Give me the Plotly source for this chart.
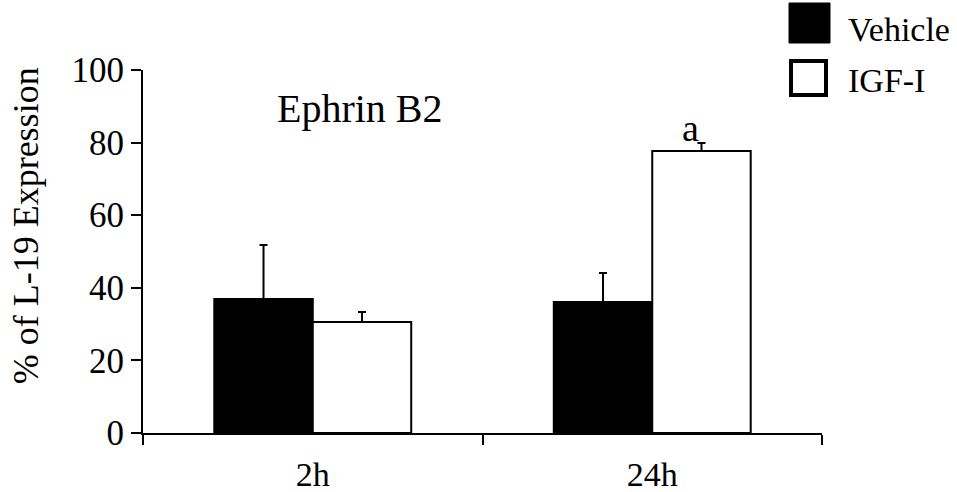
import plotly.graph_objects as go

categories = ["2h", "24h"]
vehicle = [36.9, 36.1]
vehicle_err = [14.9, 8.0]
igf = [30.6, 77.7]
igf_err = [2.7, 2.2]
y_ticks = [0, 20, 40, 60, 80, 100]
series_names = ["Vehicle", "IGF-I"]
sig_label = "a"

FONT = "Liberation Serif"

fig = go.Figure()
fig.add_trace(go.Bar(
    x=categories, y=vehicle, name=series_names[0],
    marker=dict(color="black", line=dict(color="black", width=2)),
    error_y=dict(type="data", symmetric=False, array=vehicle_err,
                 arrayminus=[0] * len(vehicle_err), color="black",
                 thickness=2, width=4),
))
fig.add_trace(go.Bar(
    x=categories, y=igf, name=series_names[1],
    marker=dict(color="white", line=dict(color="black", width=2)),
    error_y=dict(type="data", symmetric=False, array=igf_err,
                 arrayminus=[0] * len(igf_err), color="black",
                 thickness=2, width=4),
))

fig.update_layout(
    width=957, height=492,
    margin=dict(l=143, r=135, t=70, b=59),
    paper_bgcolor="white", plot_bgcolor="white",
    barmode="group", bargap=0.42, bargroupgap=0,
    showlegend=False,
    font=dict(family=FONT, color="black", size=34),
)
fig.update_xaxes(
    showline=True, linecolor="black", linewidth=2,
    ticks="outside", tickson="boundaries", ticklen=10, tickwidth=2,
    tickcolor="black", tickfont=dict(size=34, family=FONT),
    ticklabelstandoff=10, automargin=False,
    showgrid=False, zeroline=False,
)
fig.update_yaxes(
    range=[0, 100], tickvals=y_ticks,
    showline=True, linecolor="black", linewidth=2,
    ticks="outside", ticklen=10, tickwidth=2, tickcolor="black",
    tickfont=dict(size=35, family=FONT), automargin=False,
    showgrid=False, zeroline=False,
)

# y axis title
fig.add_annotation(
    text="% of L-19 Expression", xref="paper", yref="paper",
    x=-0.172, y=0.57, textangle=-90, showarrow=False,
    font=dict(size=36, family=FONT), xanchor="center", yanchor="middle",
)
# panel title
fig.add_annotation(
    text="Ephrin B2", xref="paper", yref="paper", x=0.32, y=0.895,
    showarrow=False, font=dict(size=40, family=FONT),
    xanchor="center", yanchor="middle",
)
# significance letter
fig.add_annotation(
    text=sig_label, xref="paper", yref="y", x=0.822,
    y=igf[1] + igf_err[1], showarrow=False, yanchor="bottom",
    font=dict(size=38, family=FONT), yshift=-8,
)

# custom legend
fig.add_shape(type="rect", xref="paper", yref="paper",
              x0=(789 - 143) / 679, x1=(830 - 143) / 679,
              y0=(433 - 43) / 363, y1=(433 - 3) / 363,
              fillcolor="black", line=dict(color="black", width=1))
fig.add_shape(type="rect", xref="paper", yref="paper",
              x0=(791 - 143) / 679, x1=(826 - 143) / 679,
              y0=(433 - 95) / 363, y1=(433 - 61) / 363,
              fillcolor="white", line=dict(color="black", width=4))
fig.add_annotation(text=series_names[0], xref="paper", yref="paper",
                   x=(846 - 143) / 679, y=(433 - 29) / 363,
                   xanchor="left", yanchor="middle", showarrow=False,
                   font=dict(size=34, family=FONT))
fig.add_annotation(text=series_names[1], xref="paper", yref="paper",
                   x=(846 - 143) / 679, y=(433 - 81) / 363,
                   xanchor="left", yanchor="middle", showarrow=False,
                   font=dict(size=34, family=FONT))

fig.write_html(
    "out.html",
    config={"displayModeBar": False},
    post_script="document.body.style.margin='0';document.body.style.padding='0';",
)
